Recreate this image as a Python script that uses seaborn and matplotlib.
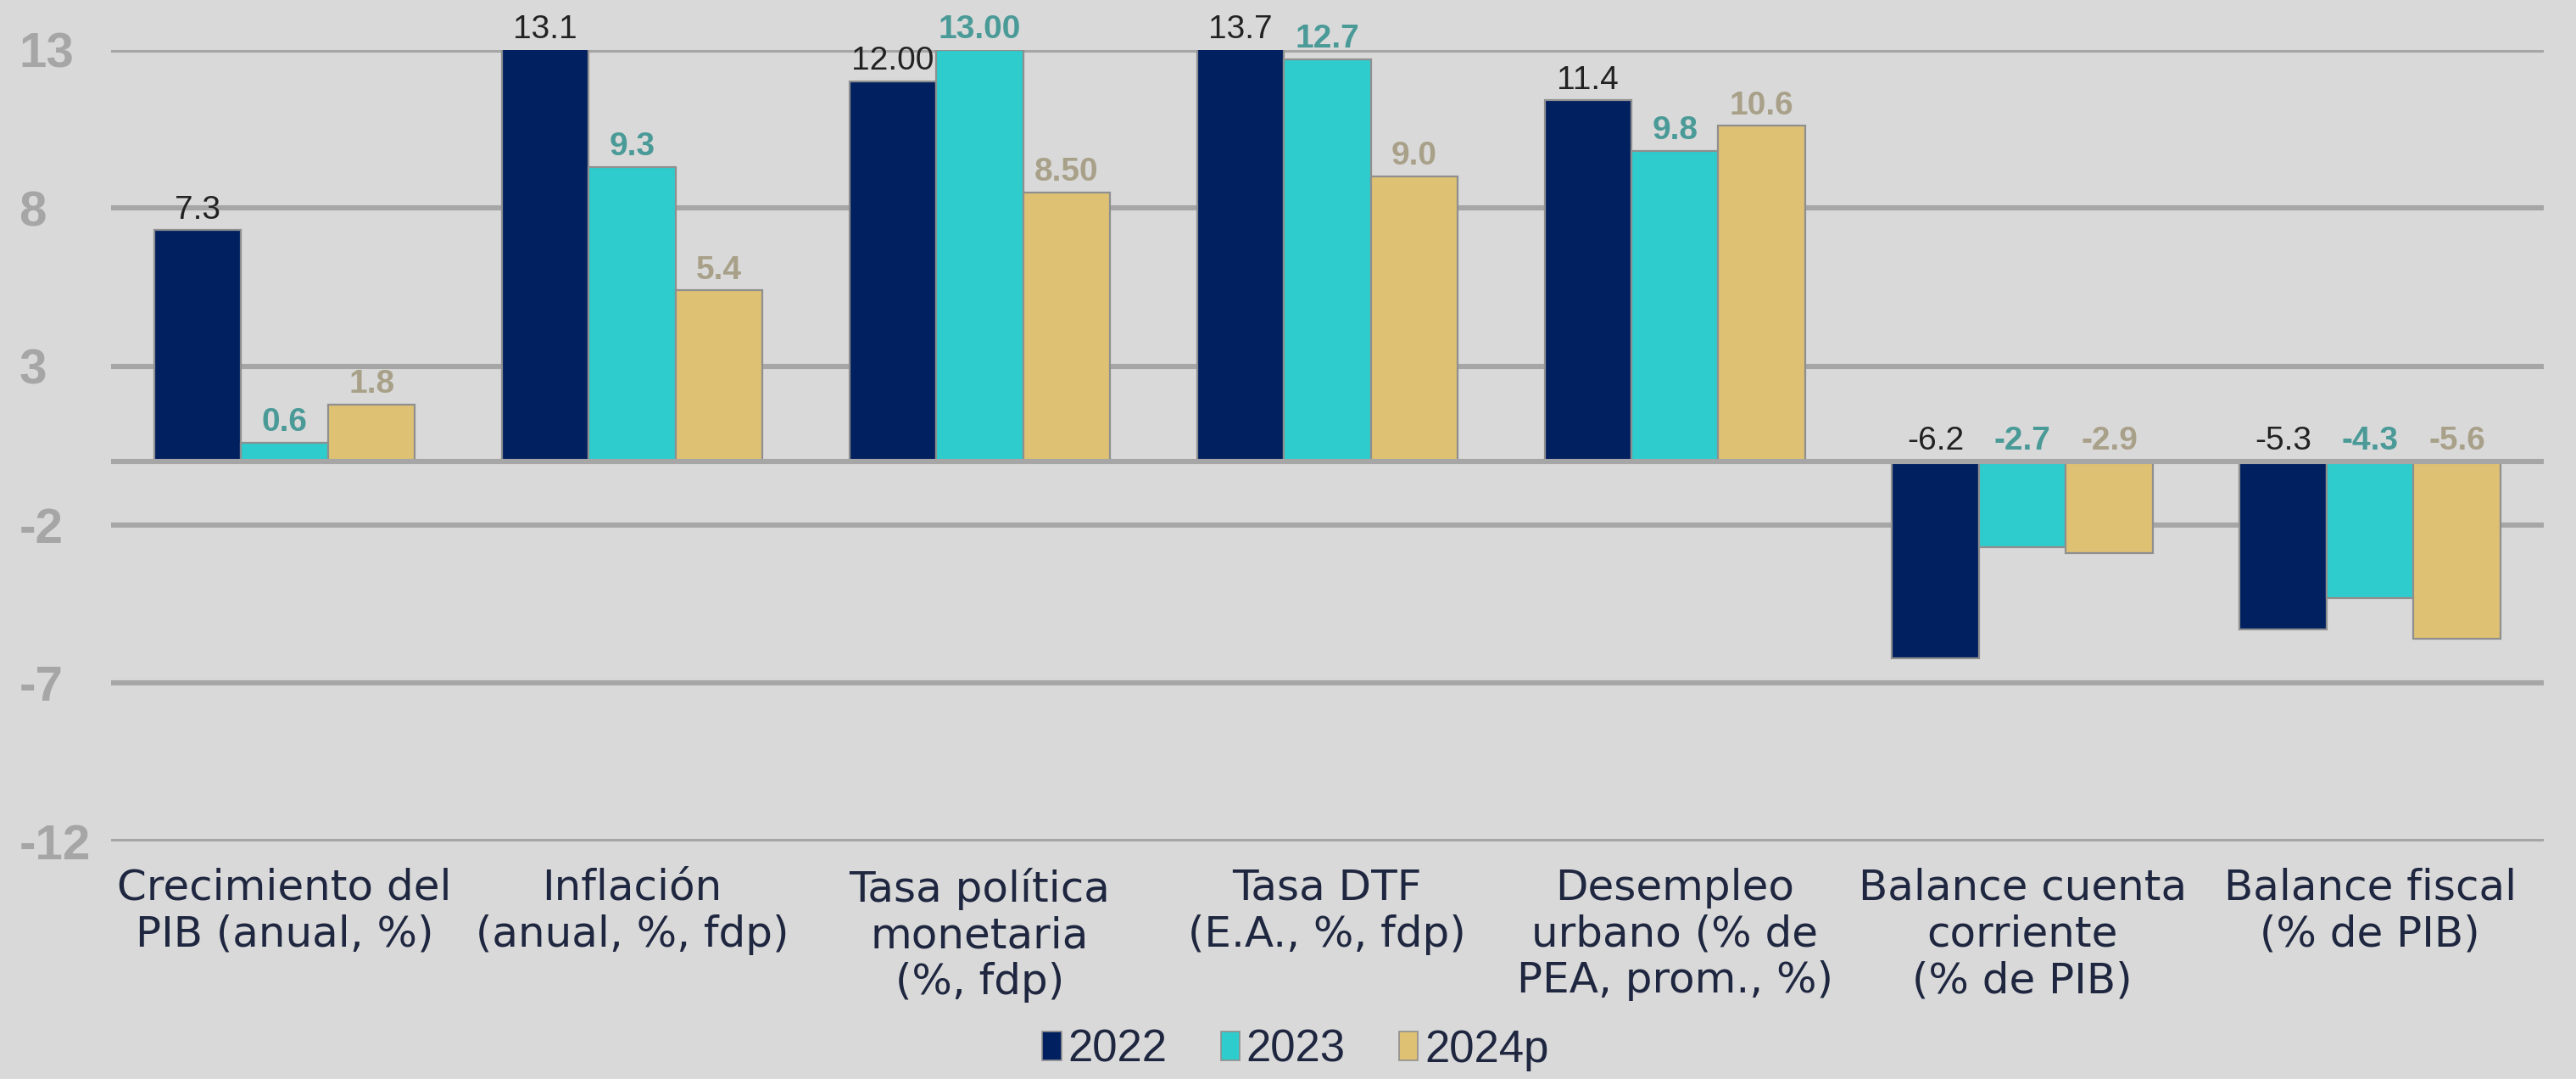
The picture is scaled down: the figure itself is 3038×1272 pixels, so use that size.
import numpy as np
import pandas as pd
import seaborn as sns
import matplotlib.pyplot as plt
from matplotlib.patches import Patch

# data
categories = ["Crecimiento del\nPIB (anual, %)", "Inflación\n(anual, %, fdp)",
              "Tasa política\nmonetaria\n(%, fdp)", "Tasa DTF\n(E.A., %, fdp)",
              "Desempleo\nurbano (% de\nPEA, prom., %)", "Balance cuenta\ncorriente\n(% de PIB)",
              "Balance fiscal\n(% de PIB)"]
years = ["2022", "2023", "2024p"]
vals_2022 = [7.3, 13.1, 12.00, 13.7, 11.4, -6.2, -5.3]
vals_2023 = [0.6, 9.3, 13.00, 12.7, 9.8, -2.7, -4.3]
vals_2024 = [1.8, 5.4, 8.50, 9.0, 10.6, -2.9, -5.6]
decimals = [1, 1, 2, 1, 1, 1, 1]
yticks = [13, 8, 3, -2, -7, -12]

bar_colors = ["#002060", "#2ecccc", "#dfc173"]
label_colors = ["#222222", "#4a9a98", "#a8a088"]
bg = "#d9d9d9"
grid_c = "#a6a6a6"
text_c = "#1f2740"

rows = []
for y, vals in zip(years, [vals_2022, vals_2023, vals_2024]):
    for c, v in zip(categories, vals):
        rows.append({"cat": c, "year": y, "val": v})
df = pd.DataFrame(rows)

sns.set_style("white")
plt.rcParams["font.family"] = ["Liberation Sans", "DejaVu Sans"]

fig = plt.figure(figsize=(15.19, 6.36), dpi=200, facecolor=bg)
ax = fig.add_axes([0.043, 0.22, 0.9445, 0.734])
ax.set_facecolor(bg)

sns.barplot(data=df, x="cat", y="val", hue="year", order=categories, hue_order=years,
            palette=bar_colors, saturation=1, width=0.75, gap=0, edgecolor="#8f8f8f",
            linewidth=0.8, legend=False, ax=ax, zorder=3)

ax.set_ylim(-12, 13)
ax.set_xlim(-0.5, len(categories) - 0.5)
ax.set_yticks(yticks)
ax.set_yticklabels([str(t) for t in yticks])
for t in yticks:
    ax.axhline(t, color=grid_c, lw=2.2, zorder=1)
ax.axhline(0, color=grid_c, lw=2.2, zorder=4)
for s in ax.spines.values():
    s.set_visible(False)

ax.tick_params(axis="y", length=0, pad=39, labelsize=21, labelcolor=grid_c)
for lab in ax.get_yticklabels():
    lab.set_horizontalalignment("left")
    lab.set_fontweight("bold")
ax.tick_params(axis="x", length=0, pad=11, labelsize=18, labelcolor=text_c)
for lab in ax.get_xticklabels():
    lab.set_verticalalignment("top")
    lab.set_family("DejaVu Sans")
    lab.set_linespacing(1.18)
ax.set_xlabel("")
ax.set_ylabel("")

# value labels
for i, (cont, lc) in enumerate(zip(ax.containers, label_colors)):
    vals = [vals_2022, vals_2023, vals_2024][i]
    for j, (bar, v) in enumerate(zip(cont, vals)):
        xc = bar.get_x() + bar.get_width() / 2
        ypos = min(v, 13) if v > 0 else 0
        ax.text(xc, ypos + 0.15, f"{v:.{decimals[j]}f}", ha="center", va="bottom",
                fontsize=14, color=lc, fontweight="normal" if i == 0 else "bold",
                clip_on=False, zorder=5)

handles = [Patch(facecolor=c, edgecolor="#8f8f8f", lw=0.6) for c in bar_colors]
fig.legend(handles, years, loc="lower center", bbox_to_anchor=(0.503, -0.03), ncol=3,
           frameon=False, fontsize=19, handlelength=0.42, handleheight=0.6,
           handletextpad=0.15, columnspacing=1.2, labelcolor=text_c)

fig.savefig("out.png", dpi=200, facecolor=bg)
